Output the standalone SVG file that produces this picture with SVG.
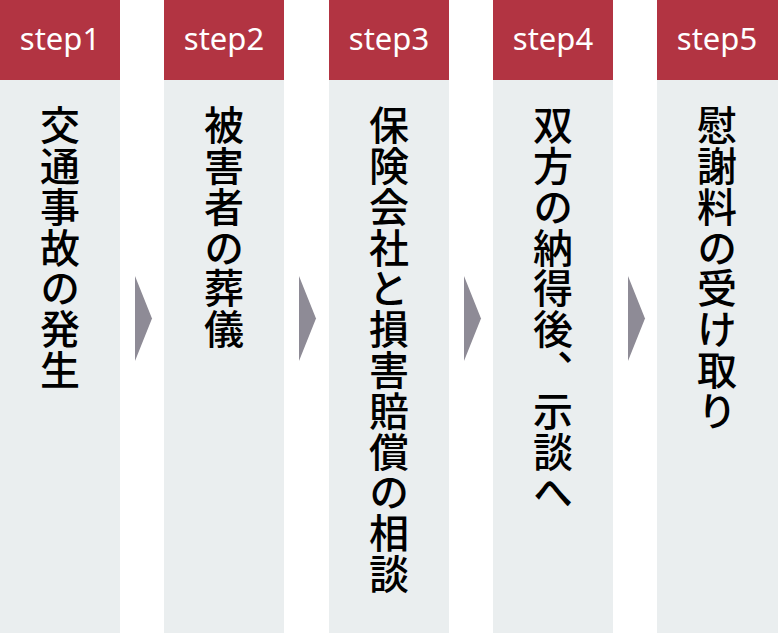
<svg xmlns="http://www.w3.org/2000/svg" width="778" height="633" viewBox="0 0 778 633">
<style>
.hdr{fill:#b23442}
.body{fill:#eaeeef}
.step{fill:#ffffff;font-family:"Noto Sans","Noto Sans CJK JP",sans-serif;font-size:31px;font-weight:400;text-anchor:middle}
.lbl{fill:#000000;font-family:"Noto Sans CJK JP",sans-serif;font-size:40px;font-weight:500;writing-mode:vertical-rl;letter-spacing:0.8px}
.arrow{fill:#8e8b96}
</style>
<rect width="778" height="633" fill="#ffffff"/>
<g id="step1">
<rect class="body" x="0" y="80" width="120" height="553"/>
<rect class="hdr" x="0" y="0" width="120" height="80"/>
<text class="step" x="60" y="50">step1</text>
<text class="lbl" x="60" y="105">交通事故の発生</text>
</g>
<g id="step2">
<rect class="body" x="164" y="80" width="120" height="553"/>
<rect class="hdr" x="164" y="0" width="120" height="80"/>
<text class="step" x="224" y="50">step2</text>
<text class="lbl" x="224" y="105">被害者の葬儀</text>
</g>
<g id="step3">
<rect class="body" x="329" y="80" width="120" height="553"/>
<rect class="hdr" x="329" y="0" width="120" height="80"/>
<text class="step" x="389" y="50">step3</text>
<text class="lbl" x="389" y="105">保険会社と損害賠償の相談</text>
</g>
<g id="step4">
<rect class="body" x="493" y="80" width="120" height="553"/>
<rect class="hdr" x="493" y="0" width="120" height="80"/>
<text class="step" x="553" y="50">step4</text>
<text class="lbl" x="553" y="105">双方の納得後、示談へ</text>
</g>
<g id="step5">
<rect class="body" x="657" y="80" width="121" height="553"/>
<rect class="hdr" x="657" y="0" width="121" height="80"/>
<text class="step" x="717" y="50">step5</text>
<text class="lbl" x="717" y="105">慰謝料の受け取り</text>
</g>
<g id="connectors">
<polygon class="arrow" points="135,276 152,318.5 135,361"/>
<polygon class="arrow" points="299,276 316,318.5 299,361"/>
<polygon class="arrow" points="464,276 481,318.5 464,361"/>
<polygon class="arrow" points="628,276 645,318.5 628,361"/>
</g>
</svg>
